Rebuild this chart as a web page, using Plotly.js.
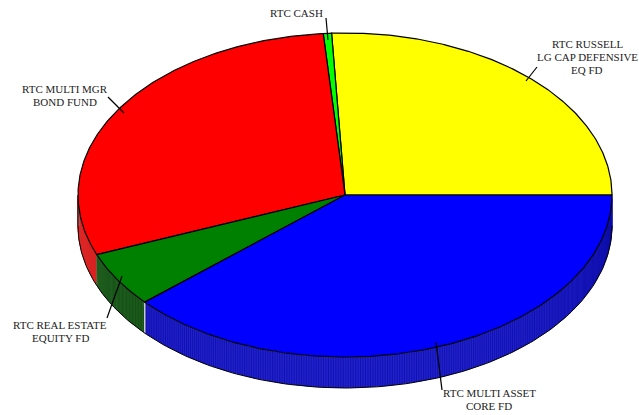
<!DOCTYPE html>
<html>
<head>
<meta charset="utf-8">
<script src="https://cdn.plot.ly/plotly-3.0.1.min.js"></script>
<style>html,body{margin:0;padding:0;background:#fff}#c{width:639px;height:415px}</style>
</head>
<body>
<div id="c"></div>
<script>
// Data (share of the pie, percent), in drawing order counter-clockwise from 3 o'clock
var categories = ["RTC RUSSELL<br>LG CAP DEFENSIVE<br>EQ FD", "RTC CASH", "RTC MULTI MGR<br>BOND FUND", "RTC REAL ESTATE<br>EQUITY FD", "RTC MULTI ASSET<br>CORE FD"];
var shares = [25.8, 0.5, 29.7, 5.5, 38.5];
var topColors = ["#ffff00", "#00ff00", "#ff0000", "#008000", "#0000ff"];
var wallColors = ["#b8b800", "#00b800", "#cc1c1c", "#104a10", "#2222cc"];
var stripeColors = ["#a0a000", "#00a000", "#e02828", "#266626", "#0c0ca8"];

// Pseudo-3D geometry, in the pixel-like axis units used below
var CX = 345, CY = 195, RX = 267, RY = 162, DEPTH = 31;
var labelX = [587, 296, 65, 60, 489];
var labelTopY = [44, 13, 89, 325, 393];
var LINE_GAP = 13;
var leaderFromX = [526, 328, 124, 122, 436];
var leaderFromY = [81, 40, 113, 276, 342];
var leaderToX = [537, 326, 108, 107, 442];
var leaderToY = [67, 18, 97, 318, 390];

function px(t) { return CX + RX * Math.cos(t * Math.PI / 180); }
function py(t, d) { return CY - RY * Math.sin(t * Math.PI / 180) + (d || 0); }

var total = shares.reduce(function (a, b) { return a + b; }, 0);
var starts = [], ends = [], acc = 0;
shares.forEach(function (s) {
  starts.push(acc / total * 360);
  acc += s;
  ends.push(acc / total * 360);
});

var traces = [];
var base = { type: "scatter", mode: "lines", hoverinfo: "skip", showlegend: false };
function add(o) { var r = {}; for (var k in base) r[k] = base[k]; for (var j in o) r[j] = o[j]; traces.push(r); }

// Side walls: only the front half (180-360 deg) is visible
shares.forEach(function (s, i) {
  var a = Math.max(starts[i], 180), b = Math.min(ends[i], 360);
  if (b <= a) return;
  var xs = [], ys = [], t;
  for (t = a; t <= b + 1e-6; t += 0.5) { xs.push(px(t)); ys.push(py(t)); }
  for (t = b; t >= a - 1e-6; t -= 0.5) { xs.push(px(t)); ys.push(py(t, DEPTH)); }
  add({ x: xs, y: ys, fill: "toself", fillcolor: wallColors[i], line: { width: 0, color: wallColors[i] } });
  var sx = [], sy = [];
  for (t = a; t <= b; t += 0.53) { sx.push(px(t), px(t), null); sy.push(py(t), py(t, DEPTH), null); }
  add({ x: sx, y: sy, line: { width: 0.7, color: stripeColors[i] } });
});

// Light seam on the blue wall and grey seam at the far left of the wall
add({ x: [px(ends[3]), px(ends[3])], y: [py(ends[3]), py(ends[3], DEPTH)], line: { width: 1.5, color: "#c8c8c8" } });
add({ x: [px(180) + 0.8, px(180) + 0.8], y: [py(180), py(180, DEPTH)], line: { width: 1, color: "#999999" } });

// Lower rim of the wall
var rx = [], ry = [];
for (var t = 180; t <= 360; t += 1) { rx.push(px(t)); ry.push(py(t, DEPTH)); }
add({ x: rx, y: ry, line: { width: 1, color: "#000" } });
add({ x: [px(180), px(180)], y: [py(180), py(180, DEPTH)], line: { width: 1, color: "#000" } });

// Top faces
shares.forEach(function (s, i) {
  var xs = [CX], ys = [CY];
  for (var t = starts[i]; t < ends[i]; t += 0.5) { xs.push(px(t)); ys.push(py(t)); }
  xs.push(px(ends[i]), CX); ys.push(py(ends[i]), CY);
  add({ x: xs, y: ys, fill: "toself", fillcolor: topColors[i], line: { width: 1.2, color: "#000" } });
});

// Leaders
categories.forEach(function (c, i) {
  add({ x: [leaderFromX[i], leaderToX[i]], y: [leaderFromY[i], leaderToY[i]], line: { width: 1.2, color: "#000" } });
});

// One annotation per text line, so the line spacing can follow the reference
var annotations = [];
categories.forEach(function (c, i) {
  c.split("<br>").forEach(function (line, n) {
    annotations.push({
      x: labelX[i], y: labelTopY[i] + n * LINE_GAP, xref: "x", yref: "y", text: line, showarrow: false,
      align: "center", xanchor: "center", yanchor: "middle",
      font: { family: "Liberation Serif, Times New Roman, serif", size: 11, color: "#222" }
    });
  });
});

var hidden = { visible: false, fixedrange: true, showgrid: false, zeroline: false };
Plotly.newPlot("c", traces, {
  width: 639, height: 415,
  margin: { l: 0, r: 0, t: 0, b: 0 },
  paper_bgcolor: "#fff", plot_bgcolor: "#fff",
  showlegend: false,
  xaxis: Object.assign({ range: [0, 639] }, hidden),
  yaxis: Object.assign({ range: [415, 0] }, hidden),
  annotations: annotations
}, { displayModeBar: false, staticPlot: true });
</script>
</body>
</html>
